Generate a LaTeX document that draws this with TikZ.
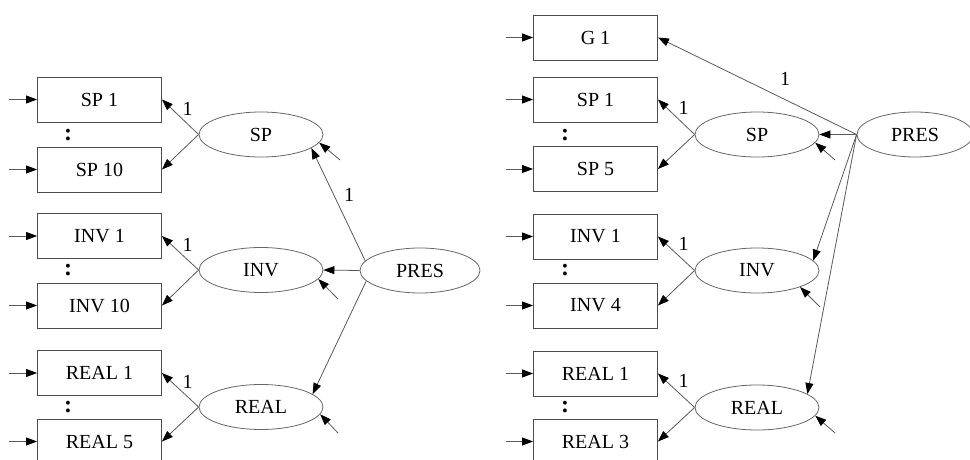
\documentclass[tikz,border=0pt]{standalone}
\usepackage{fontspec}
\setmainfont{Liberation Serif}
\usetikzlibrary{arrows.meta,shapes.geometric}
\begin{document}
\begin{tikzpicture}[x=1pt,y=-1pt,
  font=\fontsize{20}{24}\selectfont,
  obs/.style={draw=black!70, line width=0.9pt, minimum width=124pt, minimum height=45pt, inner sep=0pt},
  lat/.style={draw=black!60, ellipse, line width=0.8pt, minimum width=124pt, minimum height=45pt, inner sep=0pt},
  arr/.style={draw=black!65, line width=0.8pt, -{Triangle[length=11pt,width=8pt,color=black]}},
  lbl/.style={inner sep=0pt},
  dots/.style={inner sep=0pt, font=\fontsize{24}{28}\selectfont\bfseries}]
\useasboundingbox (0,0) rectangle (970,460);

% ---------- left panel ----------
\node[obs] (lSP1)   at (99.5,99.5)  {SP 1};
\node[obs] (lSP10)  at (99.5,169.5) {SP 10};
\node[obs] (lINV1)  at (99.5,236)   {INV 1};
\node[obs] (lINV10) at (99.5,305.5) {INV 10};
\node[obs] (lREAL1) at (99.5,373)   {REAL 1};
\node[obs] (lREAL5) at (99.5,441.5) {REAL 5};
\node[dots] (ld1) at (68,135) {:};
\node[dots] (ld2) at (68,270) {:};
\node[dots] (ld3) at (68,407) {:};

\node[lat] (lSP)   at (261,134.5) {SP};
\node[lat] (lINV)  at (261,270)   {INV};
\node[lat] (lREAL) at (261,407)   {REAL};
\node[lat, minimum width=120pt] (lPRES) at (420,270.5) {PRES};

\foreach \n in {lSP1,lSP10,lINV1,lINV10,lREAL1,lREAL5}{
  \coordinate (i-\n) at ([xshift=-28pt]\n.west);
  \draw[arr] (i-\n) -- (\n.west);
}

\draw[arr] (lSP.west) -- node[lbl,pos=0.3,yshift=15pt]{1} (lSP1.east);
\draw[arr] (lSP.west) -- (lSP10.east);
\draw[arr] (lINV.west) -- node[lbl,pos=0.3,yshift=15pt]{1} (lINV1.east);
\draw[arr] (lINV.west) -- (lINV10.east);
\draw[arr] (lREAL.west) -- node[lbl,pos=0.3,yshift=15pt]{1} (lREAL1.east);
\draw[arr] (lREAL.west) -- (lREAL5.east);

\draw[arr] (lPRES.170) -- node[lbl,pos=0.58,xshift=15pt]{1} (lSP.-15);
\draw[arr] (lPRES.west) -- (lINV.east);
\draw[arr] (lPRES.191) -- (lREAL.14);

\coordinate (elSP) at (340,160);
\coordinate (elINV) at (338,299);
\coordinate (elREAL) at (338,433);
\draw[arr] (elSP) -- (lSP.-8);
\draw[arr] (elINV) -- (lINV.-9);
\draw[arr] (elREAL) -- (lREAL.-7);

% ---------- right panel ----------
\node[obs] (rG1)    at (595.5,37.5)  {G 1};
\node[obs] (rSP1)   at (595.5,99.5)  {SP 1};
\node[obs] (rSP5)   at (595.5,169)   {SP 5};
\node[obs] (rINV1)  at (595.5,236.5) {INV 1};
\node[obs] (rINV4)  at (595.5,305.5) {INV 4};
\node[obs] (rREAL1) at (595.5,373.5) {REAL 1};
\node[obs] (rREAL3) at (595.5,441.5) {REAL 3};
\node[dots] (rd1) at (565,135) {:};
\node[dots] (rd2) at (565,270) {:};
\node[dots] (rd3) at (565,407) {:};

\node[lat] (rSP)   at (757,134.5) {SP};
\node[lat] (rINV)  at (757,270.5) {INV};
\node[lat] (rREAL) at (757,407.5) {REAL};
\node[lat, minimum width=116pt] (rPRES) at (915,134.5) {PRES};

\foreach \n in {rG1,rSP1,rSP5,rINV1,rINV4,rREAL1,rREAL3}{
  \coordinate (i-\n) at ([xshift=-27pt]\n.west);
  \draw[arr] (i-\n) -- (\n.west);
}

\draw[arr] (rSP.west) -- node[lbl,pos=0.3,yshift=16pt]{1} (rSP1.east);
\draw[arr] (rSP.west) -- (rSP5.east);
\draw[arr] (rINV.west) -- node[lbl,pos=0.3,yshift=16pt]{1} (rINV1.east);
\draw[arr] (rINV.west) -- (rINV4.east);
\draw[arr] (rREAL.west) -- node[lbl,pos=0.3,yshift=16pt]{1} (rREAL1.east);
\draw[arr] (rREAL.west) -- (rREAL3.east);

\draw[arr] (rPRES.west) -- node[lbl,pos=0.36,yshift=21pt]{1} (rG1.east);
\draw[arr] (rPRES.west) -- (rSP.east);
\draw[arr] (rPRES.west) -- (rINV.10);
\draw[arr] (rPRES.west) -- (rREAL.15);

\coordinate (erSP) at (835,160);
\coordinate (erINV) at (820,307);
\coordinate (erREAL) at (835,433);
\draw[arr] (erSP) -- (rSP.-8);
\draw[arr] (erINV) -- (rINV.-21);
\draw[arr] (erREAL) -- (rREAL.-8);
\end{tikzpicture}
\end{document}
